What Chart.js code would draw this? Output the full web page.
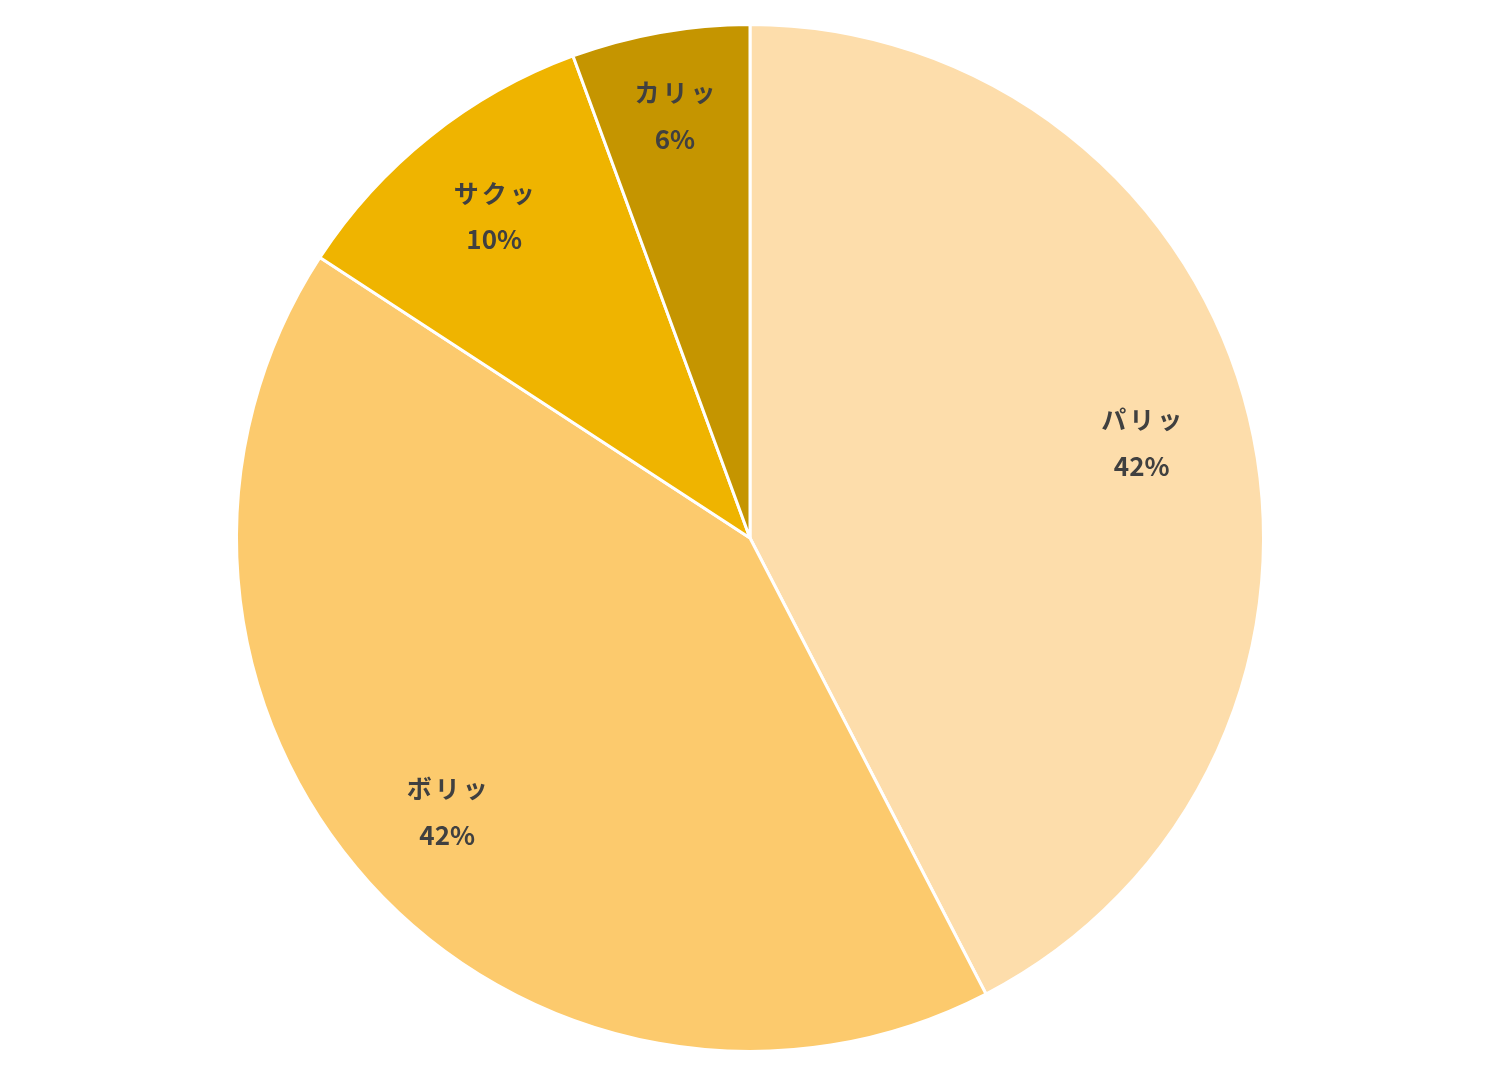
<!DOCTYPE html>
<html>
<head>
<meta charset="utf-8">
<script src="https://cdn.jsdelivr.net/npm/chart.js@4/dist/chart.umd.min.js"></script>
<style>
  html, body { margin: 0; padding: 0; background: #ffffff; }
  #wrap { width: 1500px; height: 1077px; }
</style>
</head>
<body>
<div id="wrap"><canvas id="c" width="1500" height="1077"></canvas></div>
<script>
const categories = ['パリッ', 'ボリッ', 'サクッ', 'カリッ'];
const values = [42.4, 41.8, 10.2, 5.6];
const colors = ['#FDDDAB', '#FCCA6D', '#EFB400', '#C59500'];
const labelRadiusRatio = [0.785, 0.795, 0.80, 0.835];

const labelPlugin = {
  id: 'sliceLabels',
  afterDatasetsDraw(chart) {
    const ctx = chart.ctx;
    const meta = chart.getDatasetMeta(0);
    const total = values.reduce((a, b) => a + b, 0);
    ctx.save();
    ctx.fillStyle = '#404040';
    ctx.textAlign = 'center';
    ctx.textBaseline = 'middle';
    meta.data.forEach((arc, i) => {
      const p = arc.getProps(['x', 'y', 'startAngle', 'endAngle', 'outerRadius'], true);
      const mid = (p.startAngle + p.endAngle) / 2;
      const r = p.outerRadius * labelRadiusRatio[i];
      const cx = p.x + Math.cos(mid) * r;
      const cy = p.y + Math.sin(mid) * r;
      const pct = Math.round(values[i] / total * 100) + '%';
      ctx.font = 'bold 25px "Noto Sans CJK JP"';
      try { ctx.letterSpacing = '3px'; } catch (e) {}
      ctx.fillText(categories[i], cx + 1.5, cy - 23);
      ctx.font = 'bold 26px "Noto Sans CJK JP"';
      try { ctx.letterSpacing = '0px'; } catch (e) {}
      ctx.fillText(pct, cx, cy + 23);
    });
    ctx.restore();
  }
};

new Chart(document.getElementById('c'), {
  type: 'pie',
  data: {
    labels: categories,
    datasets: [{
      data: values,
      backgroundColor: colors,
      borderColor: '#ffffff',
      borderWidth: 3
    }]
  },
  options: {
    responsive: false,
    animation: false,
    layout: { padding: { top: 23, bottom: 24, left: 0, right: 0 } },
    plugins: {
      legend: { display: false },
      tooltip: { enabled: false }
    }
  },
  plugins: [labelPlugin]
});
</script>
</body>
</html>
